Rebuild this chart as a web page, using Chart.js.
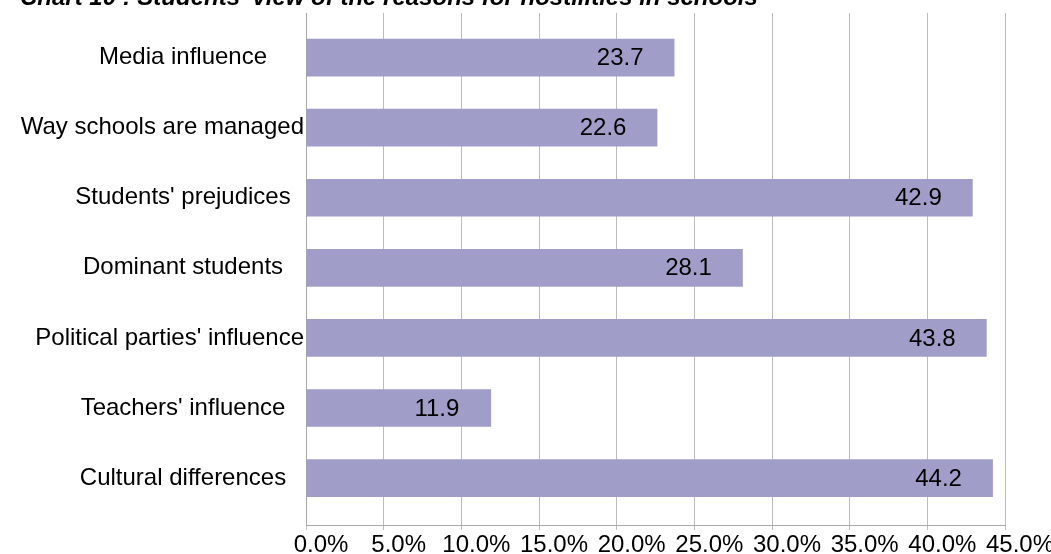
<!DOCTYPE html>
<html>
<head>
<meta charset="utf-8">
<script src="https://cdn.jsdelivr.net/npm/chart.js@4"></script>
<style>
  html, body { margin: 0; padding: 0; background: #fff; }
  #wrap { width: 1051px; height: 554px; }
</style>
</head>
<body>
<div id="wrap"><canvas id="reasonsChart" width="1051" height="554"></canvas></div>
<script>
// reasons given by students, top to bottom
const reasons = [
    'Media influence',
    'Way schools are managed',
    "Students' prejudices",
    'Dominant students',
    "Political parties' influence",
    "Teachers' influence",
    'Cultural differences',
]
// share of students naming each reason (%)
const shares = [23.7, 22.6, 42.9, 28.1, 43.8, 11.9, 44.2]

const chartTitle = "Chart 10 : Students' view of the reasons for hostilities in schools"

const FONT = '"Liberation Sans", Arial, Helvetica, sans-serif'
const barColor = '#a09ec9'

/*
    Plugins
*/
// title sits above the canvas top, only its lower half shows
const titlePlugin = {
    id: 'titleText',
    afterDraw(chart) {
        const ctx = chart.ctx
        ctx.save()
        ctx.font = 'italic bold 24px ' + FONT
        ctx.fillStyle = '#000'
        ctx.textAlign = 'left'
        ctx.textBaseline = 'alphabetic'
        ctx.fillText(chartTitle, 20, 5)
        ctx.restore()
    }
}

// category names, centred in the label column but kept clear of the axis
const categoryLabels = {
    id: 'categoryLabels',
    afterDraw(chart) {
        const ctx = chart.ctx
        const yScale = chart.scales.y
        const axisX = chart.chartArea.left
        ctx.save()
        ctx.font = '24px ' + FONT
        ctx.fillStyle = '#000'
        ctx.textBaseline = 'middle'
        ctx.textAlign = 'left'
        for (let i = 0; i < reasons.length; i++) {
            const w = ctx.measureText(reasons[i]).width
            let left = 183 - w / 2
            if (left + w > axisX - 2)
                left = axisX - 2 - w
            ctx.fillText(reasons[i], left, yScale.getPixelForValue(i))
        }
        ctx.restore()
    }
}

// value printed inside the end of each bar
const valueLabels = {
    id: 'valueLabels',
    afterDatasetsDraw(chart) {
        const ctx = chart.ctx
        const meta = chart.getDatasetMeta(0)
        ctx.save()
        ctx.font = '24px ' + FONT
        ctx.fillStyle = '#000'
        ctx.textAlign = 'center'
        ctx.textBaseline = 'middle'
        meta.data.forEach((bar, i) => {
            ctx.fillText(shares[i].toFixed(1), bar.x - 54, bar.y + 1)
        })
        ctx.restore()
    }
}

/*
    Chart
*/
const ctx = document.getElementById('reasonsChart').getContext('2d')
const reasonsChart = new Chart(ctx, {
    type: 'bar',
    data: {
        datasets: [{
            data: shares.map((v, i) => ({ x: v, y: i })),
            backgroundColor: barColor,
            borderWidth: 0,
            barThickness: 37,
        }]
    },
    options: {
        indexAxis: 'y',
        responsive: false,
        animation: false,
        devicePixelRatio: 1,
        layout: {
            padding: { top: 13, right: 46, left: 0, bottom: 0 }
        },
        plugins: {
            legend: { display: false },
            tooltip: { enabled: false },
        },
        scales: {
            x: {
                type: 'linear',
                min: 0,
                max: 45,
                afterFit(scale) { scale.height = 29 },
                ticks: {
                    stepSize: 5,
                    color: '#000',
                    padding: 1,
                    labelOffset: 15,
                    maxRotation: 0,
                    autoSkip: false,
                    font: { family: FONT, size: 24 },
                    callback: v => v.toFixed(1) + '%',
                },
                grid: {
                    color: '#bcbcbc',
                    lineWidth: 1,
                    tickLength: 5,
                },
                border: { color: '#a8a8a8', width: 1 },
            },
            y: {
                type: 'linear',
                reverse: true,
                offset: false,
                min: -0.637,
                max: 6.67,
                afterFit(scale) { scale.width = 306 },
                ticks: { display: false },
                grid: { display: false, offset: false },
                border: { color: '#a8a8a8', width: 1 },
            },
        },
    },
    plugins: [titlePlugin, categoryLabels, valueLabels],
})
</script>
</body>
</html>
